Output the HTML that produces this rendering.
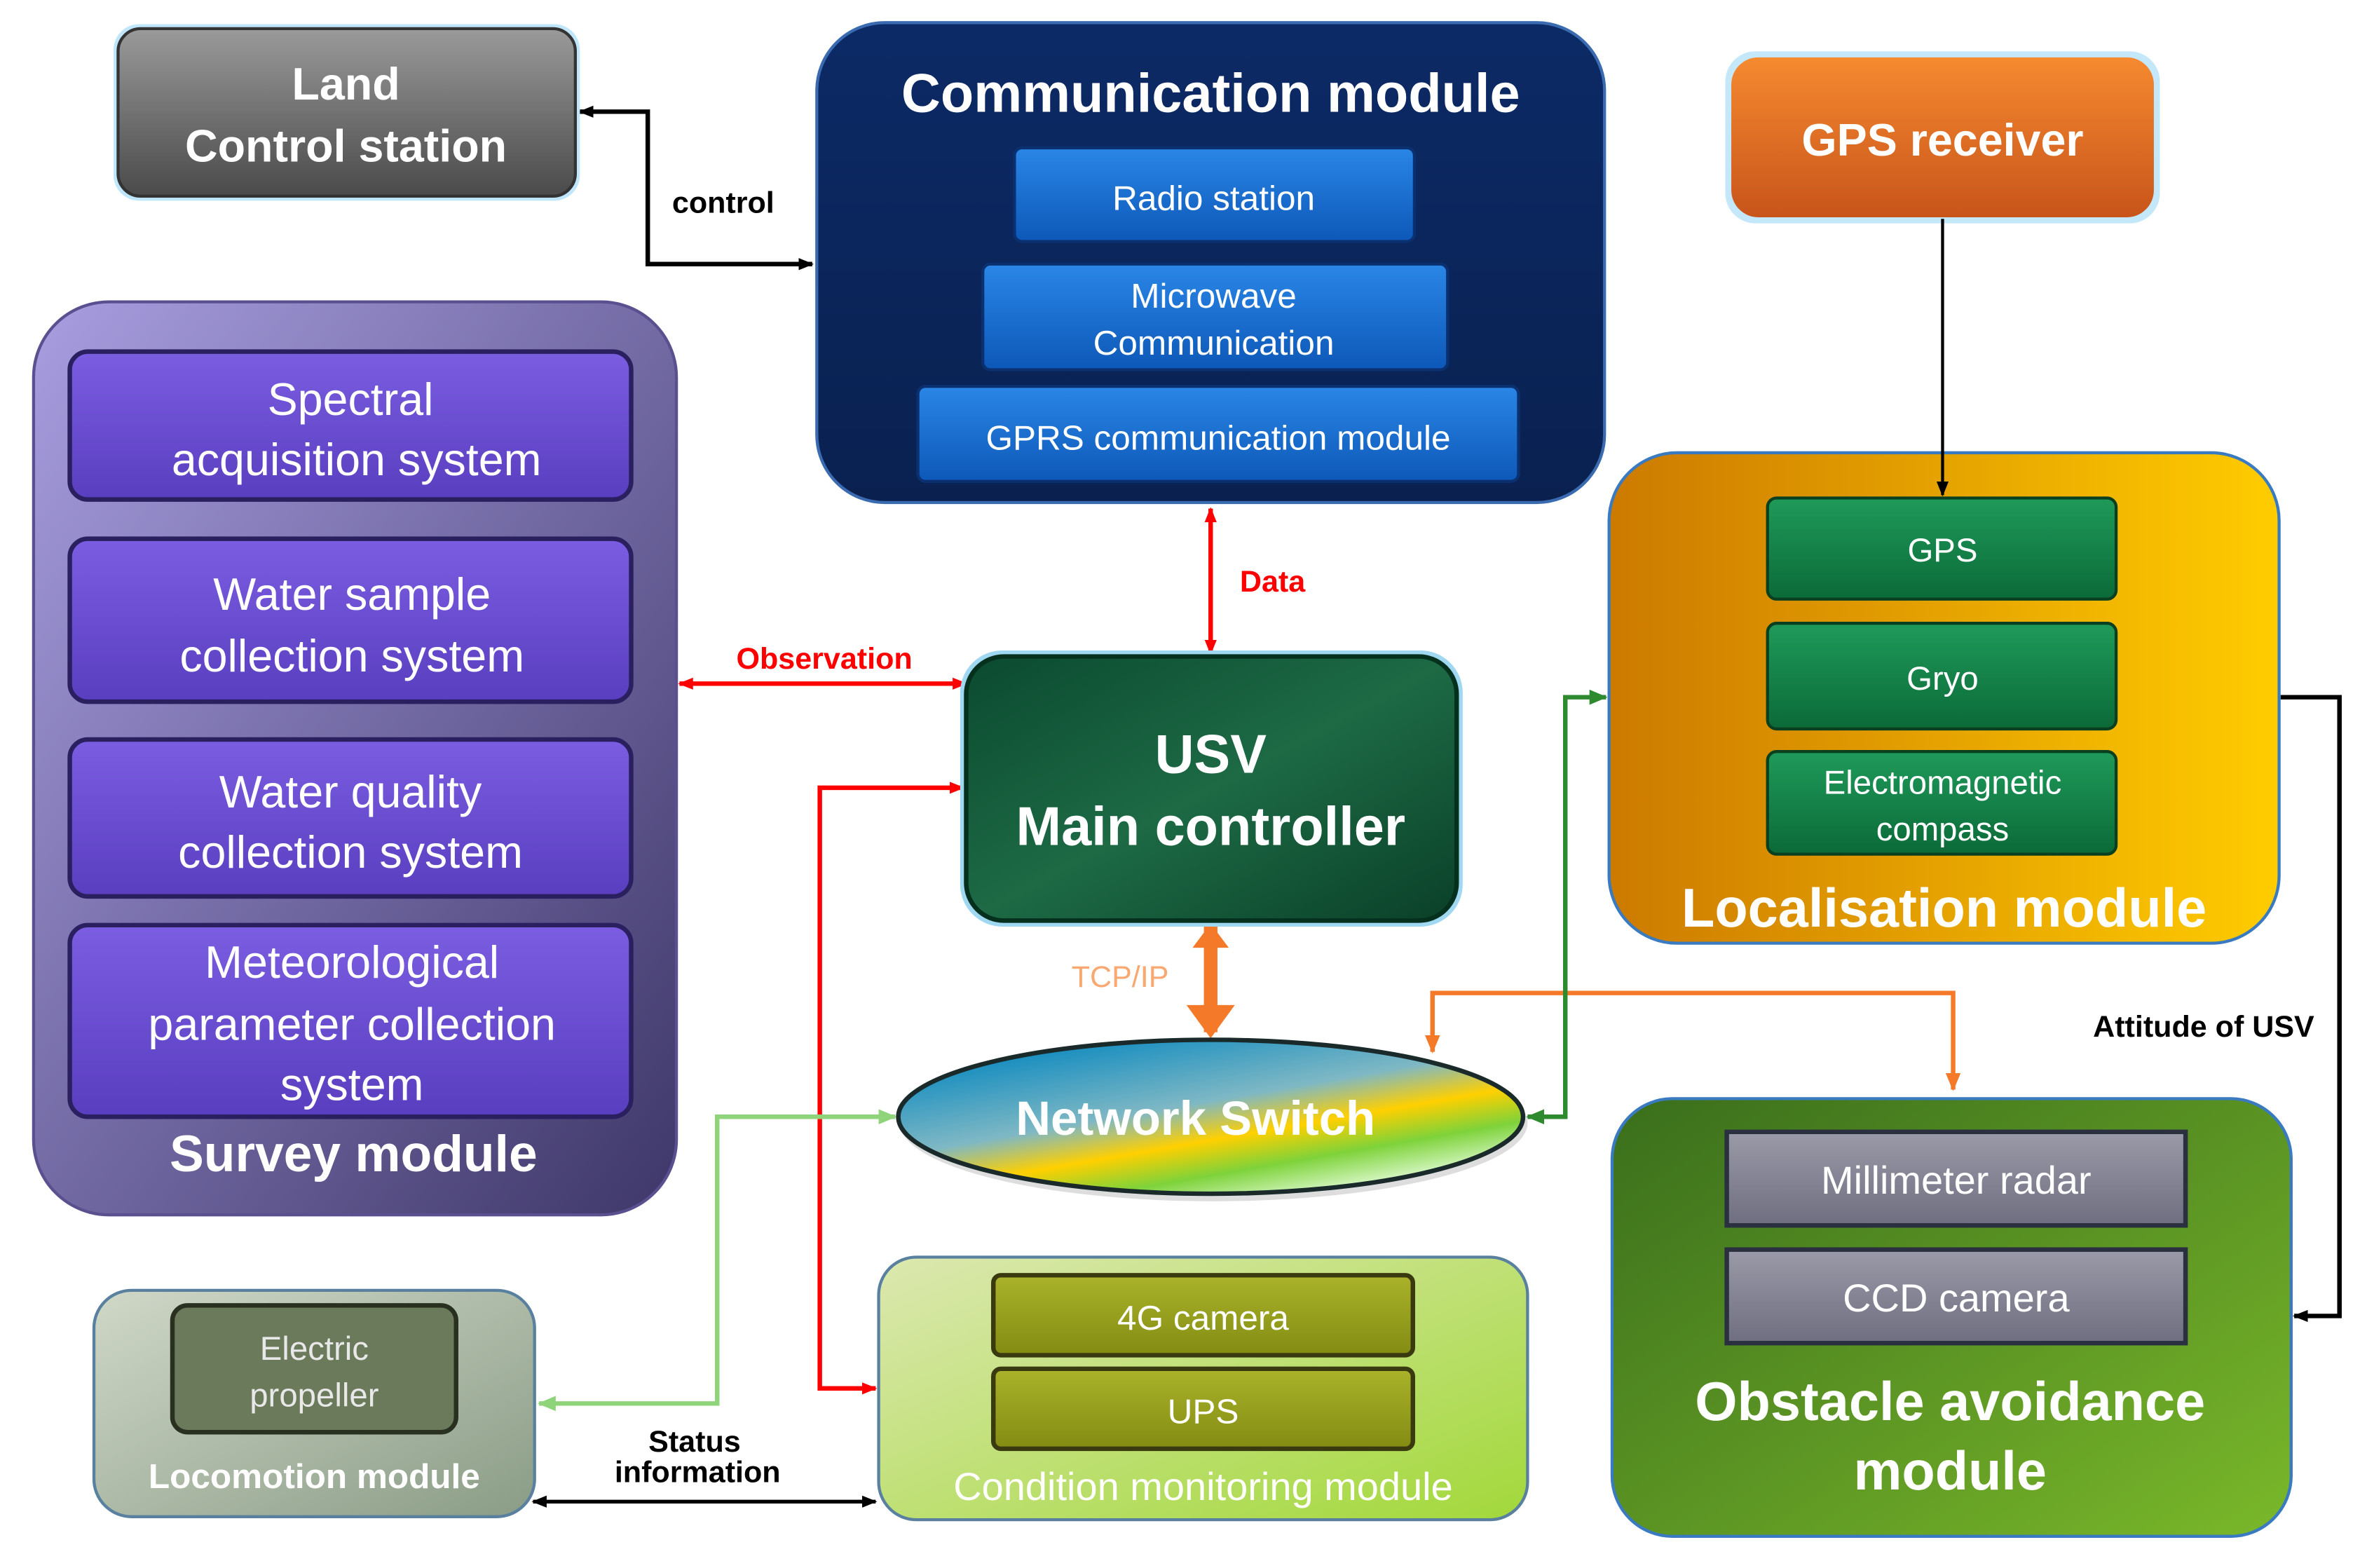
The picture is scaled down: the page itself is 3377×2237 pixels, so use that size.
<!DOCTYPE html>
<html><head><meta charset="utf-8"><style>
html,body{margin:0;padding:0;background:#fff}
svg{display:block}
text{font-family:"Liberation Sans",sans-serif}
</style></head><body>
<svg width="3377" height="2237" viewBox="0 0 1568 1039" xmlns="http://www.w3.org/2000/svg">
<defs>
<linearGradient id="gray" x1="0" y1="0" x2="0" y2="1"><stop offset="0" stop-color="#9a9a9a"/><stop offset="1" stop-color="#4a4a4a"/></linearGradient>
<linearGradient id="navy" x1="0" y1="0" x2="0" y2="1"><stop offset="0" stop-color="#0c2a66"/><stop offset="1" stop-color="#0a2150"/></linearGradient>
<linearGradient id="blue" x1="0" y1="0" x2="0" y2="1"><stop offset="0" stop-color="#2a86e6"/><stop offset="1" stop-color="#0d58b8"/></linearGradient>
<linearGradient id="orange" x1="0" y1="0" x2="0" y2="1"><stop offset="0" stop-color="#f58a30"/><stop offset="1" stop-color="#c8541a"/></linearGradient>
<linearGradient id="purp" x1="0" y1="0" x2="1" y2="1"><stop offset="0" stop-color="#a89ee0"/><stop offset="1" stop-color="#3e3768"/></linearGradient>
<linearGradient id="pbox" x1="0" y1="0" x2="0" y2="1"><stop offset="0" stop-color="#7a5de0"/><stop offset="1" stop-color="#5a3ec0"/></linearGradient>
<linearGradient id="loc" x1="0" y1="0" x2="1" y2="0"><stop offset="0" stop-color="#cc7a00"/><stop offset="1" stop-color="#ffcc00"/></linearGradient>
<linearGradient id="gbox" x1="0" y1="0" x2="0" y2="1"><stop offset="0" stop-color="#1f9a5a"/><stop offset="1" stop-color="#0b6a38"/></linearGradient>
<linearGradient id="usv" x1="0" y1="0" x2="1" y2="1"><stop offset="0" stop-color="#0b4a30"/><stop offset="0.5" stop-color="#1d6a45"/><stop offset="1" stop-color="#0a4028"/></linearGradient>
<linearGradient id="sw" x1="0.2" y1="0.1" x2="0.8" y2="0.95"><stop offset="0" stop-color="#1a8fc0"/><stop offset="0.4" stop-color="#7fb8c4"/><stop offset="0.6" stop-color="#ffd000"/><stop offset="0.78" stop-color="#7ed23a"/><stop offset="1" stop-color="#e8ffe0"/></linearGradient>
<linearGradient id="obs" x1="0" y1="0" x2="1" y2="1"><stop offset="0" stop-color="#3a6e1c"/><stop offset="1" stop-color="#7ab82a"/></linearGradient>
<linearGradient id="obox" x1="0" y1="0" x2="0" y2="1"><stop offset="0" stop-color="#9a9aa8"/><stop offset="1" stop-color="#6e6e80"/></linearGradient>
<linearGradient id="lcm" x1="0" y1="0" x2="1" y2="1"><stop offset="0" stop-color="#d0d8c8"/><stop offset="1" stop-color="#8a9c86"/></linearGradient>
<linearGradient id="cond" x1="0" y1="0" x2="1" y2="1"><stop offset="0" stop-color="#dce8b0"/><stop offset="1" stop-color="#a2d83a"/></linearGradient>
<linearGradient id="olive" x1="0" y1="0" x2="0" y2="1"><stop offset="0" stop-color="#aab32a"/><stop offset="1" stop-color="#838c12"/></linearGradient>
<marker id="ak" markerWidth="10" markerHeight="10" refX="9" refY="5" orient="auto-start-reverse" markerUnits="userSpaceOnUse"><path d="M0,1 L10,5 L0,9 z" fill="#000"/></marker>
<marker id="ar" markerWidth="10" markerHeight="10" refX="9" refY="5" orient="auto-start-reverse" markerUnits="userSpaceOnUse"><path d="M0,1 L10,5 L0,9 z" fill="#f00"/></marker>
<marker id="ao" markerWidth="12" markerHeight="12" refX="11" refY="6" orient="auto-start-reverse" markerUnits="userSpaceOnUse"><path d="M0,1 L12,6 L0,11 z" fill="#f47a2a"/></marker>
<marker id="ag" markerWidth="12" markerHeight="12" refX="11" refY="6" orient="auto-start-reverse" markerUnits="userSpaceOnUse"><path d="M0,1 L12,6 L0,11 z" fill="#2e8a2e"/></marker>
<marker id="al" markerWidth="12" markerHeight="12" refX="11" refY="6" orient="auto-start-reverse" markerUnits="userSpaceOnUse"><path d="M0,1 L12,6 L0,11 z" fill="#8fd47a"/></marker>
</defs>

<!-- connectors -->
<polyline points="384,74 429,74 429,175 538,175" fill="none" stroke="#000" stroke-width="3" marker-start="url(#ak)" marker-end="url(#ak)"/>
<text x="479" y="141" font-size="20" font-weight="bold" text-anchor="middle">control</text>
<line x1="802" y1="337" x2="802" y2="433" stroke="#f00" stroke-width="3" marker-start="url(#ar)" marker-end="url(#ar)"/>
<text x="843" y="392" font-size="20" font-weight="bold" fill="#f00" text-anchor="middle">Data</text>
<line x1="450" y1="453" x2="640" y2="453" stroke="#f00" stroke-width="3" marker-start="url(#ar)" marker-end="url(#ar)"/>
<text x="546" y="443" font-size="20" font-weight="bold" fill="#f00" text-anchor="middle">Observation</text>
<polyline points="638,522 543,522 543,920 580,920" fill="none" stroke="#f00" stroke-width="3" marker-start="url(#ar)" marker-end="url(#ar)"/>
<line x1="802" y1="614" x2="802" y2="684" stroke="#f47a2a" stroke-width="9"/>
<path d="M790,628 L802,612 L814,628 z M786,666 L802,688 L818,666 z" fill="#f47a2a"/>
<text x="742" y="654" font-size="20" fill="#f8a870" text-anchor="middle">TCP/IP</text>
<polyline points="949,697 949,658 1294,658 1294,722" fill="none" stroke="#f47a2a" stroke-width="3" marker-start="url(#ao)" marker-end="url(#ao)"/>
<polyline points="1012,740 1037,740 1037,462 1064,462" fill="none" stroke="#2e8a2e" stroke-width="3" marker-start="url(#ag)" marker-end="url(#ag)"/>
<polyline points="593,740 475,740 475,930 357,930" fill="none" stroke="#8fd47a" stroke-width="3" marker-start="url(#al)" marker-end="url(#al)"/>
<polyline points="1511,462 1550,462 1550,872 1520,872" fill="none" stroke="#000" stroke-width="3" marker-end="url(#ak)"/>
<text x="1460" y="687" font-size="20" font-weight="bold" text-anchor="middle">Attitude of USV</text>
<line x1="353" y1="995" x2="580" y2="995" stroke="#000" stroke-width="2.5" marker-start="url(#ak)" marker-end="url(#ak)"/>
<text x="460" y="962" font-size="20" font-weight="bold" text-anchor="middle">Status</text>
<text x="462" y="982" font-size="20" font-weight="bold" text-anchor="middle">information</text>

<!-- Land control -->
<rect x="75" y="16" width="309" height="117" rx="17" fill="#bfe6fb"/>
<rect x="78" y="19" width="303" height="111" rx="15" fill="url(#gray)" stroke="#333" stroke-width="2"/>
<text x="229" y="66" font-size="30" font-weight="bold" fill="#fff" text-anchor="middle">Land</text>
<text x="229" y="107" font-size="30" font-weight="bold" fill="#fff" text-anchor="middle">Control station</text>

<!-- Communication -->
<rect x="541" y="15" width="522" height="318" rx="45" fill="url(#navy)" stroke="#3a6ab0" stroke-width="2"/>
<text x="802" y="74" font-size="36" font-weight="bold" fill="#fff" text-anchor="middle">Communication module</text>
<rect x="672" y="98" width="265" height="62" rx="5" fill="url(#blue)" stroke="#0a3070" stroke-width="2"/>
<text x="804" y="139" font-size="23" fill="#fff" text-anchor="middle">Radio  station</text>
<rect x="651" y="175" width="308" height="70" rx="5" fill="url(#blue)" stroke="#0a3070" stroke-width="2"/>
<text x="804" y="204" font-size="23" fill="#fff" text-anchor="middle">Microwave</text>
<text x="804" y="235" font-size="23" fill="#fff" text-anchor="middle">Communication</text>
<rect x="608" y="256" width="398" height="63" rx="5" fill="url(#blue)" stroke="#0a3070" stroke-width="2"/>
<text x="807" y="298" font-size="23" fill="#fff" text-anchor="middle">GPRS communication module</text>

<!-- GPS receiver -->
<rect x="1143" y="34" width="288" height="114" rx="20" fill="#c4e8fa"/>
<rect x="1147" y="38" width="280" height="106" rx="18" fill="url(#orange)"/>
<text x="1287" y="103" font-size="30" font-weight="bold" fill="#fff" text-anchor="middle">GPS receiver</text>

<!-- Survey -->
<rect x="22" y="200" width="426" height="605" rx="50" fill="url(#purp)" stroke="#5a5090" stroke-width="2"/>
<g fill="url(#pbox)" stroke="#2a2060" stroke-width="3">
<rect x="46" y="233" width="372" height="98" rx="12"/>
<rect x="46" y="357" width="372" height="108" rx="12"/>
<rect x="46" y="490" width="372" height="104" rx="12"/>
<rect x="46" y="613" width="372" height="127" rx="12"/>
</g>
<g font-size="30" fill="#fff" text-anchor="middle">
<text x="232" y="275">Spectral</text><text x="236" y="315">acquisition system</text>
<text x="233" y="404">Water sample</text><text x="233" y="445">collection system</text>
<text x="232" y="535">Water quality</text><text x="232" y="575">collection system</text>
<text x="233" y="648">Meteorological</text><text x="233" y="689">parameter collection</text><text x="233" y="729">system</text>
</g>
<text x="234" y="776" font-size="34" font-weight="bold" fill="#fff" text-anchor="middle">Survey module</text>

<!-- Localisation -->
<rect x="1066" y="300" width="444" height="325" rx="45" fill="url(#loc)" stroke="#3a7ac0" stroke-width="2"/>
<line x1="1287" y1="145" x2="1287" y2="328" stroke="#000" stroke-width="2" marker-end="url(#ak)"/>
<g fill="url(#gbox)" stroke="#0a4020" stroke-width="2">
<rect x="1171" y="330" width="231" height="67" rx="6"/>
<rect x="1171" y="413" width="231" height="70" rx="6"/>
<rect x="1171" y="498" width="231" height="68" rx="6"/>
</g>
<g font-size="22" fill="#fff" text-anchor="middle">
<text x="1287" y="372">GPS</text><text x="1287" y="457">Gryo</text>
<text x="1287" y="526">Electromagnetic</text><text x="1287" y="557">compass</text>
</g>
<text x="1288" y="614" font-size="36" font-weight="bold" fill="#fff" text-anchor="middle">Localisation module</text>

<!-- USV -->
<rect x="636" y="431" width="333" height="183" rx="28" fill="#9fd8f0"/>
<rect x="640" y="435" width="325" height="175" rx="25" fill="url(#usv)" stroke="#06301e" stroke-width="3"/>
<text x="802" y="512" font-size="36" font-weight="bold" fill="#fff" text-anchor="middle">USV</text>
<text x="802" y="560" font-size="36" font-weight="bold" fill="#fff" text-anchor="middle">Main controller</text>

<!-- Network switch -->
<ellipse cx="804" cy="744" rx="208" ry="52" fill="#bbb" opacity="0.5"/>
<ellipse cx="802" cy="740" rx="207" ry="51" fill="url(#sw)" stroke="#1a2a2a" stroke-width="3"/>
<text x="792" y="752" font-size="32" font-weight="bold" fill="#fff" text-anchor="middle">Network Switch</text>

<!-- Obstacle -->
<rect x="1068" y="728" width="450" height="290" rx="40" fill="url(#obs)" stroke="#3a7ac0" stroke-width="2"/>
<rect x="1144" y="750" width="304" height="62" fill="url(#obox)" stroke="#2a3040" stroke-width="3"/>
<rect x="1144" y="828" width="304" height="62" fill="url(#obox)" stroke="#2a3040" stroke-width="3"/>
<text x="1296" y="791" font-size="26" fill="#fff" text-anchor="middle">Millimeter radar</text>
<text x="1296" y="869" font-size="26" fill="#fff" text-anchor="middle">CCD camera</text>
<text x="1292" y="941" font-size="36" font-weight="bold" fill="#fff" text-anchor="middle">Obstacle avoidance</text>
<text x="1292" y="987" font-size="36" font-weight="bold" fill="#fff" text-anchor="middle">module</text>

<!-- Locomotion -->
<rect x="62" y="855" width="292" height="150" rx="25" fill="url(#lcm)" stroke="#5a80a0" stroke-width="2"/>
<rect x="114" y="865" width="188" height="84" rx="10" fill="#6b7a5a" stroke="#2a3020" stroke-width="3"/>
<text x="208" y="901" font-size="22" fill="#e8e8e8" text-anchor="middle">Electric</text>
<text x="208" y="932" font-size="22" fill="#e8e8e8" text-anchor="middle">propeller</text>
<text x="208" y="986" font-size="23" font-weight="bold" fill="#fff" text-anchor="middle">Locomotion module</text>

<!-- Condition -->
<rect x="582" y="833" width="430" height="174" rx="25" fill="url(#cond)" stroke="#5a80a0" stroke-width="2"/>
<rect x="658" y="845" width="278" height="53" rx="5" fill="url(#olive)" stroke="#3a3a10" stroke-width="3"/>
<rect x="658" y="907" width="278" height="53" rx="5" fill="url(#olive)" stroke="#3a3a10" stroke-width="3"/>
<text x="797" y="881" font-size="23" fill="#fff" text-anchor="middle">4G camera</text>
<text x="797" y="943" font-size="23" fill="#fff" text-anchor="middle">UPS</text>
<text x="797" y="994" font-size="26" fill="#fff" text-anchor="middle">Condition monitoring module</text>
</svg>
</body></html>
